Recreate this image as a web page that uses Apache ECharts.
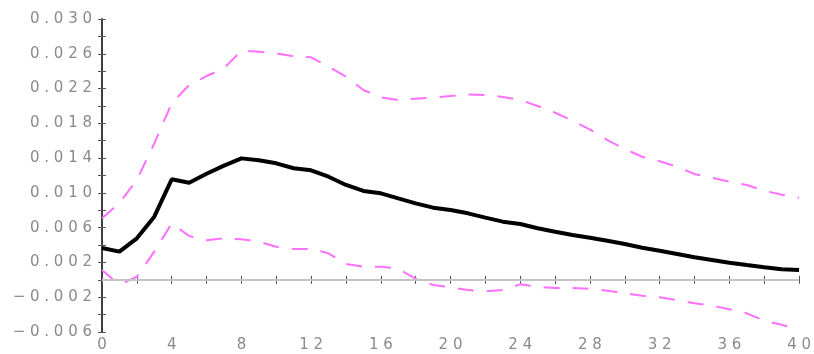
<!DOCTYPE html>
<html>
<head>
<meta charset="utf-8">
<script src="https://cdn.jsdelivr.net/npm/echarts@6/dist/echarts.min.js"></script>
<style>
  html, body { margin: 0; padding: 0; background: #fff; }
  #chart { width: 814px; height: 354px; }
</style>
</head>
<body>
<div id="chart"></div>
<script>
// horizon 0..40
var horizon = [0,1,2,3,4,5,6,7,8,9,10,11,12,13,14,15,16,17,18,19,20,21,22,23,24,25,26,27,28,29,30,31,32,33,34,35,36,37,38,39,40];

// point response
var response = [0.00366,0.00324,0.00477,0.00726,0.01156,0.01117,0.01220,0.01313,0.01397,0.01375,
  0.01340,0.01283,0.01260,0.01186,0.01091,0.01022,0.00995,0.00937,0.00880,0.00830,
  0.00803,0.00765,0.00715,0.00669,0.00642,0.00593,0.00554,0.00516,0.00485,0.00450,
  0.00412,0.00369,0.00335,0.00297,0.00259,0.00228,0.00197,0.00170,0.00144,0.00121,0.00113];

// upper band
var upper = [0.00707,0.00884,0.01148,0.01570,0.02030,0.02241,0.02344,0.02433,0.02636,0.02624,
  0.02605,0.02570,0.02559,0.02451,0.02337,0.02183,0.02099,0.02068,0.02083,0.02095,
  0.02114,0.02133,0.02126,0.02103,0.02068,0.02000,0.01922,0.01830,0.01727,0.01608,
  0.01505,0.01416,0.01363,0.01301,0.01217,0.01175,0.01129,0.01091,0.01025,0.00979,0.00944];

// lower band
var lower = [0.00113,-0.00060,0.00036,0.00324,0.00650,0.00504,0.00454,0.00478,0.00466,0.00438,
  0.00381,0.00354,0.00354,0.00305,0.00182,0.00151,0.00151,0.00128,0.00013,-0.00060,
  -0.00086,-0.00117,-0.00133,-0.00117,-0.00052,-0.00079,-0.00094,-0.00094,-0.00102,-0.00125,
  -0.00155,-0.00183,-0.00201,-0.00232,-0.00270,-0.00298,-0.00339,-0.00385,-0.00470,-0.00516,-0.00569];

var yMin = -0.006, yMax = 0.030, yStep = 0.002;

function pairs(vals) {
    return horizon.map(function(h, i) { return [h, vals[i]]; });
}

function spaced(s) {
    return s.split('').join(' ');
}

var labelStyle = { color: '#8a8a8a', fontFamily: 'DejaVu Sans', fontSize: 15, overflow: 'none' };
var lineAxis = { lineStyle: { color: '#333', width: 1.5 } };
var tickIn = { inside: true, length: 4, lineStyle: { color: '#555', width: 1 } };

var option = {
    animation: false,
    backgroundColor: '#fff',
    grid: { left: 102, right: 14, top: 19, bottom: 22 },
    xAxis: [{
        type: 'value', min: 0, max: 40, interval: 2,
        axisLine: lineAxis, axisTick: tickIn, splitLine: { show: false },
        axisLabel: Object.assign({
            margin: 6,
            formatter: function(v) { return v % 4 === 0 ? spaced(String(v)) : ''; }
        }, labelStyle)
    }, {
        type: 'value', min: 0, max: 40, interval: 2, position: 'top',
        axisLine: lineAxis, axisTick: tickIn, splitLine: { show: false },
        axisLabel: { show: false }
    }],
    yAxis: [{
        type: 'value', min: yMin, max: yMax, interval: yStep,
        axisLine: lineAxis, axisTick: tickIn, splitLine: { show: false },
        axisLabel: Object.assign({
            margin: 10,
            formatter: function(v) {
                var k = Math.round((v - yMin) / yStep);
                if (k % 2 !== 0) return '';
                var s = Math.abs(v).toFixed(3);
                return (v < -1e-9 ? '\u2212 ' : '') + spaced(s);
            }
        }, labelStyle)
    }, {
        type: 'value', min: yMin, max: yMax, interval: yStep, position: 'right',
        axisLine: lineAxis, axisTick: tickIn, splitLine: { show: false },
        axisLabel: { show: false }
    }],
    series: [{
        name: 'upper', type: 'line', data: pairs(upper), symbol: 'none',
        lineStyle: { color: '#ff70ff', width: 2, type: [16, 13] },
        z: 3
    }, {
        name: 'lower', type: 'line', data: pairs(lower), symbol: 'none',
        lineStyle: { color: '#ff70ff', width: 2, type: [16, 13] },
        z: 3,
        markLine: {
            silent: true, symbol: 'none', label: { show: false },
            lineStyle: { color: '#c4c4c4', width: 2, type: 'solid' },
            data: [{ yAxis: 0 }]
        }
    }, {
        name: 'response', type: 'line', data: pairs(response), symbol: 'none',
        lineStyle: { color: '#000', width: 4 },
        z: 4
    }]
};

var myChart = echarts.init(document.getElementById('chart'));
myChart.setOption(option);
</script>
</body>
</html>
